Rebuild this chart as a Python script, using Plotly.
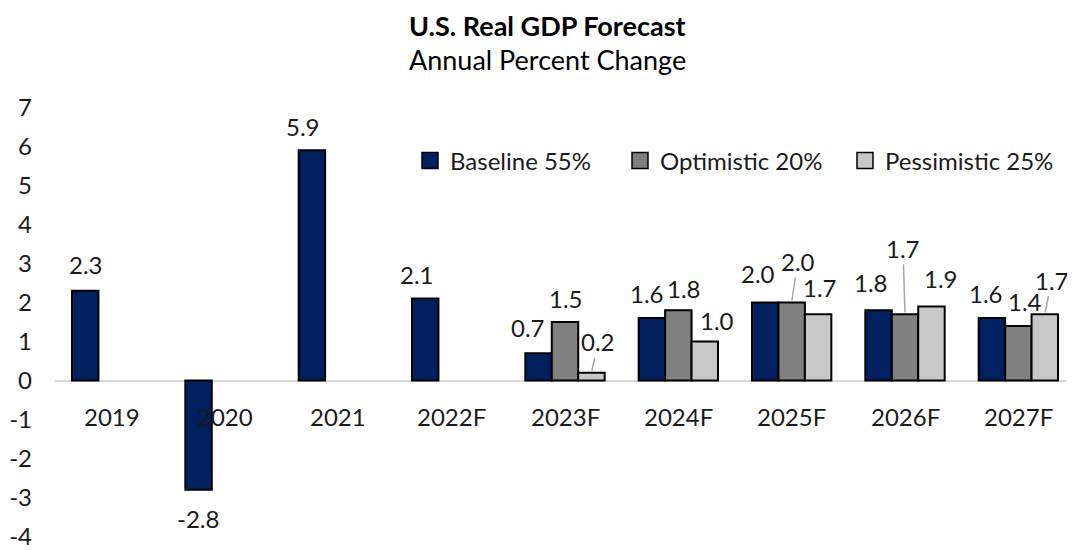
import plotly.graph_objects as go

# ---------------- data ----------------
categories = ["2019", "2020", "2021", "2022F", "2023F", "2024F", "2025F", "2026F", "2027F"]
baseline = [2.3, -2.8, 5.9, 2.1, 0.7, 1.6, 2.0, 1.8, 1.6]
optimistic = [None, None, None, None, 1.5, 1.8, 2.0, 1.7, 1.4]
pessimistic = [None, None, None, None, 0.2, 1.0, 1.7, 1.9, 1.7]
series_names = ["Baseline 55%", "Optimistic 20%", "Pessimistic 25%"]
y_ticks = [7, 6, 5, 4, 3, 2, 1, 0, -1, -2, -3, -4]

title_text = "U.S. Real GDP Forecast"
subtitle_text = "Annual Percent Change"

# ---------------- style ----------------
colors = ["#002060", "#808080", "#C8C8C8"]
FONT = "Lato, 'Open Sans', sans-serif"
FS = 24
TITLE_FS = 27
TXT = "#1a1a1a"
PAGE_OFF = 8                      # browser default body margin
W, H = 1075 - PAGE_OFF, 550 - PAGE_OFF
M_L, M_R, M_T, M_B = 55 - PAGE_OFF, 0, 107 - PAGE_OFF, 13
BARGAP = 0.3
Y_RANGE = [-4.01, 7.01]

# label offsets in pixels (dx, dy relative to bar end; leader=True draws a leader line)
label_offsets = {
    0: [(1, -26, False), (-1, 29, False), (-9, -24, False), (-8, -24, False), (-11, -26, False),
        (-5, -25, False), (-7, -29, False), (-8, -28, False), (-6, -25, False)],
    1: [None, None, None, None, (1, -24, False), (6, -22, False), (6, -41, True),
        (-2, -66, True), (7, -24, False)],
    2: [None, None, None, None, (7, -31, True), (12, -21, False), (2, -27, False),
        (10, -28, False), (7, -34, True)],
}

series_values = [baseline, optimistic, pessimistic]

fig = go.Figure()
for s, (name, vals, col) in enumerate(zip(series_names, series_values, colors)):
    fig.add_trace(go.Bar(
        x=categories, y=vals, name=name, showlegend=False,
        marker=dict(color=col, line=dict(color="#000000", width=2)),
        hoverinfo="skip",
    ))

# legend-only entries (bigger square symbols)
legend_keys = ["legend", "legend2", "legend3"]
for s, (name, col) in enumerate(zip(series_names, colors)):
    fig.add_trace(go.Scatter(
        x=[None], y=[None], mode="markers", name=name, legend=legend_keys[s],
        marker=dict(symbol="square", size=16, color=col, line=dict(color="#000000", width=1.5)),
        showlegend=True,
    ))

# ---------------- data labels ----------------
plot_w = W - M_L - M_R
plot_h = H - M_T - M_B
bar_w = (1 - BARGAP) / 3
annotations = []
for s, vals in enumerate(series_values):
    for i, v in enumerate(vals):
        if v is None:
            continue
        dx, dy, leader = label_offsets[s][i]
        xpos = i + (s - 1) * bar_w
        txt = f"{v:.1f}"
        if leader:
            annotations.append(dict(
                x=xpos, y=v, xref="x", yref="y", text=txt, showarrow=True,
                ax=dx, ay=dy, arrowhead=0, arrowwidth=1.5, arrowcolor="#A6A6A6",
                standoff=2, font=dict(family=FONT, size=FS, color=TXT),
            ))
        else:
            annotations.append(dict(
                x=xpos, y=v, xref="x", yref="y", text=txt, showarrow=False,
                xshift=dx, yshift=-dy, xanchor="center", yanchor="middle",
                font=dict(family=FONT, size=FS, color=TXT),
            ))

# category labels next to the zero line
for i, c in enumerate(categories):
    annotations.append(dict(
        x=i, y=0, xref="x", yref="y", text=c, showarrow=False,
        yshift=-36, xanchor="center", yanchor="middle",
        font=dict(family=FONT, size=FS, color=TXT),
    ))

# titles (positions given in page pixels)
def px_to_paper_y(py):
    return 1 - (py - PAGE_OFF - M_T) / plot_h
def px_to_paper_x(px):
    return (px - PAGE_OFF - M_L) / plot_w

annotations.append(dict(
    x=px_to_paper_x(547), y=px_to_paper_y(PAGE_OFF), xref="paper", yref="paper",
    text=f"<b>{title_text}</b>", showarrow=False, xanchor="center", yanchor="top",
    borderpad=0, font=dict(family=FONT, size=TITLE_FS, color="#000000"),
))
annotations.append(dict(
    x=px_to_paper_x(547), y=px_to_paper_y(42), xref="paper", yref="paper",
    text=subtitle_text, showarrow=False, xanchor="center", yanchor="top",
    borderpad=0, font=dict(family=FONT, size=TITLE_FS, color="#000000"),
))

legend_centers = [430, 640, 865]
legend_common = dict(
    orientation="h", yanchor="middle", xanchor="left", bgcolor="rgba(0,0,0,0)",
    font=dict(family=FONT, size=FS, color=TXT), borderwidth=0,
)
layout_legends = {}
for k, cx in zip(legend_keys, legend_centers):
    layout_legends[k] = dict(legend_common, x=px_to_paper_x(cx - 20), y=px_to_paper_y(161))

fig.update_layout(
    width=W, height=H,
    margin=dict(l=M_L, r=M_R, t=M_T, b=M_B, pad=0),
    paper_bgcolor="#FFFFFF", plot_bgcolor="#FFFFFF",
    barmode="group", bargap=BARGAP, bargroupgap=0,
    font=dict(family=FONT, size=FS, color=TXT),
    annotations=annotations,
    xaxis=dict(type="category", categoryorder="array", categoryarray=categories,
               showticklabels=False, showgrid=False, zeroline=False, showline=False,
               ticks="", fixedrange=True),
    yaxis=dict(range=Y_RANGE, tickvals=y_ticks, ticktext=[str(t) for t in y_ticks],
               showgrid=False, zeroline=True, zerolinecolor="#D9D9D9", zerolinewidth=2,
               showline=False, ticks="", ticklabelstandoff=22, ticklabeloverflow="allow",
               tickfont=dict(family=FONT, size=FS, color=TXT), fixedrange=True),
    **layout_legends,
)

fig.write_html("out.html")
